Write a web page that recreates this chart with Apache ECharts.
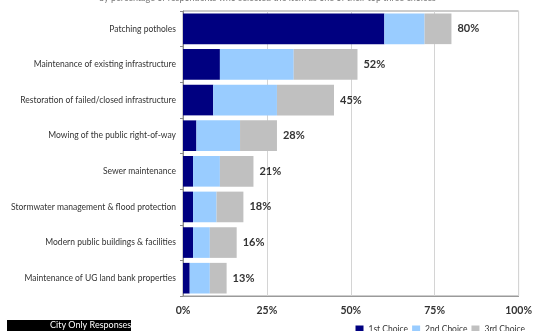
<!DOCTYPE html>
<html>
<head>
<meta charset="utf-8">
<script src="https://cdn.jsdelivr.net/npm/echarts@6/dist/echarts.min.js"></script>
<style>
  html, body { margin: 0; padding: 0; background: #fff; }
  #chart { width: 535px; height: 331px; }
</style>
</head>
<body>
<div id="chart"></div>
<script>
// Public works priorities: share of respondents picking each item as 1st/2nd/3rd choice
const categories = [
  'Patching potholes',
  'Maintenance of existing infrastructure',
  'Restoration of failed/closed infrastructure',
  'Mowing of the public right-of-way',
  'Sewer maintenance',
  'Stormwater management & flood protection',
  'Modern public buildings & facilities',
  'Maintenance of UG land bank properties'
];
const firstChoice  = [60, 11, 9, 4, 3, 3, 3, 2];
const secondChoice = [12, 22, 19, 13, 8, 7, 5, 6];
const thirdChoice  = [8, 19, 17, 11, 10, 8, 8, 5];
const seriesNames = ['1st Choice', '2nd Choice', '3rd Choice'];
const xTicks = [0, 25, 50, 75, 100];

const totals = categories.map((_, i) => firstChoice[i] + secondChoice[i] + thirdChoice[i]);

const FONT = 'Lato, "Open Sans", sans-serif';
const chart = echarts.init(document.getElementById('chart'), null, { renderer: 'canvas' });

chart.setOption({
  animation: false,
  backgroundColor: '#ffffff',
  textStyle: { fontFamily: FONT },
  title: {
    text: 'by percentage of respondents who selected the item as one of their top three choices',
    left: 'center',
    top: -6,
    padding: 0,
    textStyle: { fontSize: 9, fontWeight: 'normal', color: '#777', fontFamily: FONT }
  },
  grid: {
    left: 183, right: 11, top: 11, bottom: 35,
    show: true, borderColor: '#9a9a9a', borderWidth: 1,
    containLabel: false
  },
  legend: {
    data: seriesNames,
    right: 10, top: 325,
    padding: 0,
    itemWidth: 8, itemHeight: 8, itemGap: 4,
    icon: 'rect',
    textStyle: { fontSize: 8.5, color: '#333', fontFamily: FONT }
  },
  xAxis: {
    type: 'value',
    min: xTicks[0], max: xTicks[xTicks.length - 1], interval: 25,
    axisLine: { show: true, lineStyle: { color: '#9a9a9a' } },
    axisTick: { show: false },
    splitLine: { show: true, lineStyle: { color: '#d4d4d4', width: 1 } },
    axisLabel: {
      formatter: '{value}%', fontSize: 10.5, fontWeight: 'bold', color: '#333',
      fontFamily: FONT, margin: 9
    }
  },
  yAxis: {
    type: 'category',
    data: categories,
    inverse: true,
    axisLine: { show: true, lineStyle: { color: '#8a8a8a' } },
    axisTick: { show: true, length: 3, lineStyle: { color: '#8a8a8a' } },
    axisLabel: { fontSize: 8.5, color: '#333', margin: 7, fontFamily: FONT }
  },
  series: [
    {
      name: seriesNames[0], type: 'bar', stack: 'total', data: firstChoice,
      barCategoryGap: '14%', itemStyle: { color: '#000080' }
    },
    {
      name: seriesNames[1], type: 'bar', stack: 'total', data: secondChoice,
      barCategoryGap: '14%', itemStyle: { color: '#99ccff' }
    },
    {
      name: seriesNames[2], type: 'bar', stack: 'total', data: thirdChoice,
      barCategoryGap: '14%', itemStyle: { color: '#c0c0c0' },
      label: {
        show: true, position: 'right', distance: 6,
        formatter: p => totals[p.dataIndex] + '%',
        fontSize: 11, fontWeight: 'bold', color: '#333', fontFamily: FONT
      }
    }
  ],
  graphic: [
    {
      type: 'rect', left: 7, top: 320,
      shape: { width: 124, height: 12 },
      style: { fill: '#000' }
    },
    {
      type: 'text', left: 50, top: 321,
      style: { text: 'City Only Responses', fill: '#fff', fontSize: 9, fontFamily: FONT }
    }
  ]
});
</script>
</body>
</html>
